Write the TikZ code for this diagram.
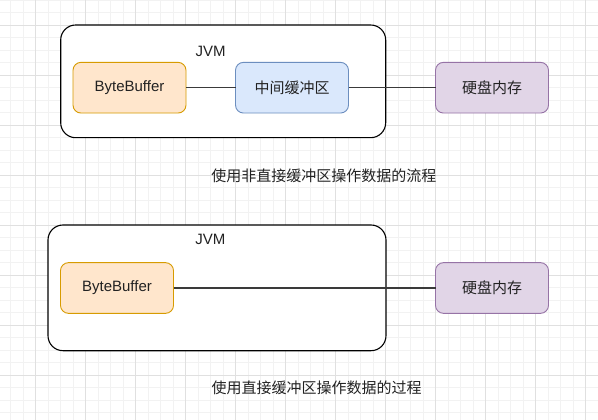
\documentclass[tikz,border=0pt]{standalone}
\usepackage{fontspec}
\setmainfont{Liberation Sans}
\newfontfamily\cjk{Noto Sans CJK SC}
\definecolor{gmin}{HTML}{F2F2F2}
\definecolor{gmaj}{HTML}{E0E0E0}
\definecolor{orfill}{HTML}{FFE6CC}
\definecolor{ordraw}{HTML}{D79B00}
\definecolor{blfill}{HTML}{DAE8FC}
\definecolor{bldraw}{HTML}{6C8EBF}
\definecolor{pufill}{HTML}{E1D5E7}
\definecolor{pudraw}{HTML}{9673A6}
\definecolor{txt}{HTML}{222222}
\definecolor{edge}{HTML}{3A3A3A}
\begin{document}
\begin{tikzpicture}[x=1pt,y=-1pt,
  container/.style={draw=black,line width=1.1pt,fill=white,rounded corners=15pt},
  box/.style={rounded corners=8pt,line width=0.9pt,minimum width=113pt,minimum height=50.7pt,inner sep=0pt,outer sep=0pt,text=txt,font=\fontsize{15}{18}\selectfont},
  orbox/.style={box,draw=ordraw,fill=orfill},
  blbox/.style={box,draw=bldraw,fill=blfill},
  pubox/.style={box,draw=pudraw,fill=pufill},
  cjkfont/.style={font=\cjk\fontsize{15}{18}\selectfont},
  lbl/.style={text=txt,inner sep=0pt,font=\fontsize{15}{18}\selectfont},
  captext/.style={text=txt,inner sep=0pt,font=\cjk\fontsize{15}{18}\selectfont},
  conn/.style={draw=edge,line width=1.1pt}]
\useasboundingbox (0,0) rectangle (598,420);
\fill[white] (0,0) rectangle (598,420);
% grid
\foreach \k in {-2,...,45} {
  \pgfmathsetmacro{\gx}{35.7+12.5*\k}
  \draw[gmin,line width=0.8pt] (\gx,0) -- (\gx,420);
}
\foreach \k in {-2,...,32} {
  \pgfmathsetmacro{\gy}{25+12.5*\k}
  \draw[gmin,line width=0.8pt] (0,\gy) -- (598,\gy);
}
\foreach \k in {0,...,11} {
  \pgfmathsetmacro{\gx}{35.7+50*\k}
  \draw[gmaj,line width=0.8pt] (\gx,0) -- (\gx,420);
}
\foreach \k in {0,...,8} {
  \pgfmathsetmacro{\gy}{25+50*\k}
  \draw[gmaj,line width=0.8pt] (0,\gy) -- (598,\gy);
}
% top diagram
\draw[container] (60.7,25) rectangle (385.7,137.7);
\node[lbl] (jvmA) at (210.7,51.7) {JVM};
\node[orbox] (bbA) at (129.5,87.7) {ByteBuffer};
\node[blbox,cjkfont] (midA) at (292,87.7) {中间缓冲区};
\node[pubox,cjkfont] (diskA) at (492,87.7) {硬盘内存};
\draw[conn] (bbA.east) -- (midA.west);
\draw[conn] (midA.east) -- (diskA.west);
\node[captext] (capA) at (323.8,176) {使用非直接缓冲区操作数据的流程};
% bottom diagram
\draw[container] (48,225) rectangle (386,350.7);
\node[lbl] (jvmB) at (210.3,239) {JVM};
\node[orbox] (bbB) at (117,288) {ByteBuffer};
\node[pubox,cjkfont] (diskB) at (492,288) {硬盘内存};
\draw[conn] (bbB.east) -- (diskB.west);
\node[captext] (capB) at (316.7,388.3) {使用直接缓冲区操作数据的过程};
\end{tikzpicture}
\end{document}
